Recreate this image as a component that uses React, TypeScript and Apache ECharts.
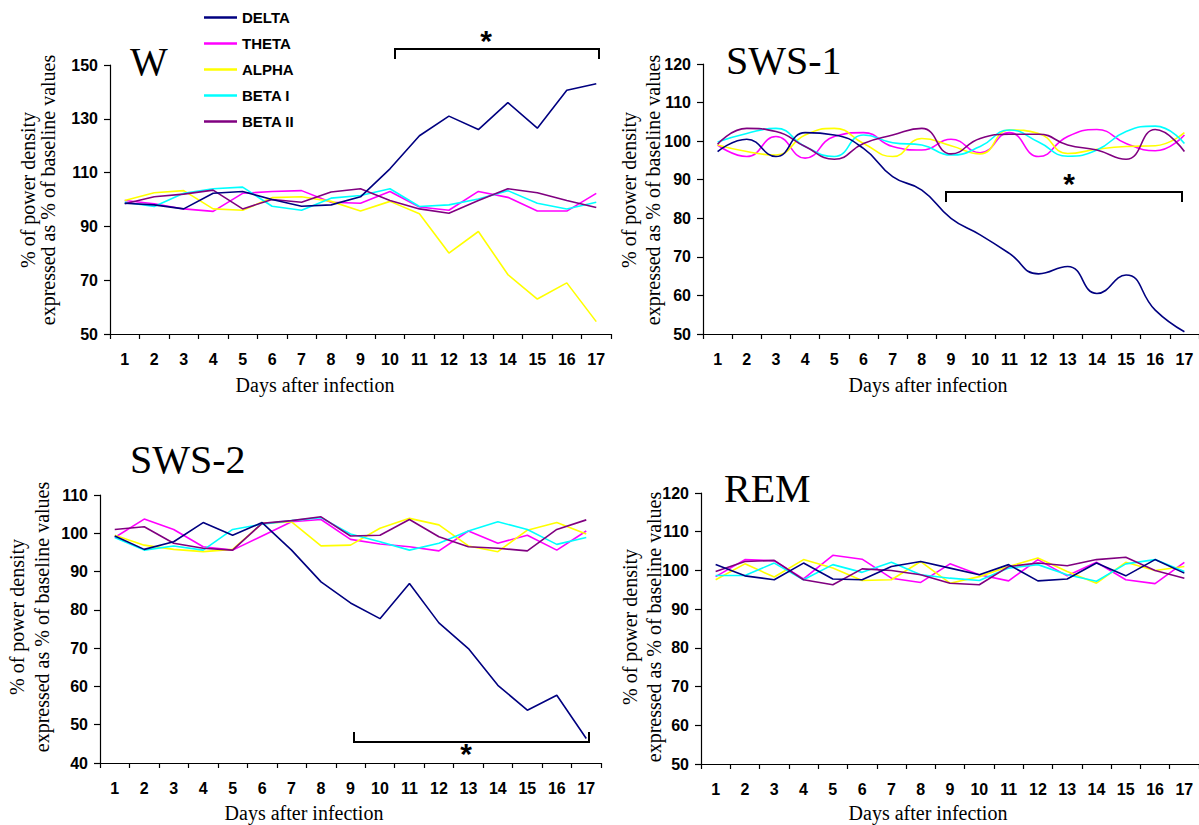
import React, { useEffect, useRef } from "react";
import * as echarts from "echarts";

const days = ["1","2","3","4","5","6","7","8","9","10","11","12","13","14","15","16","17"];
const bandNames = ["DELTA", "THETA", "ALPHA", "BETA I", "BETA II"];
const bandColors = ["#000080", "#FF00FF", "#FFFF00", "#00FFFF", "#800080"];

// W (wake)
const wDelta = [98.6, 98, 96.5, 102.3, 103, 100, 97.5, 98, 101, 111.4, 123.7, 131, 126, 136, 126.5, 140.6, 143];
const wTheta = [99.6, 98.4, 96.5, 95.6, 102.3, 103, 103.3, 99, 98.6, 103, 97.2, 96, 103, 100.8, 95.7, 95.7, 102.3];
const wAlpha = [99.6, 102.5, 103.3, 96.5, 96, 100.7, 101, 99.3, 95.7, 99.3, 94.7, 80.1, 88.1, 72.1, 63, 69, 54.6];
const wBeta1 = [99, 97.4, 102.3, 104, 104.6, 97.5, 96, 100.5, 101.5, 104, 97.4, 98, 100.2, 103.3, 98.6, 96.5, 99];
const wBeta2 = [98.4, 101, 102, 103.5, 96.5, 100, 99, 102.8, 104, 99.6, 96.5, 94.9, 99.6, 104, 102.5, 99.6, 97];

// SWS-1
const s1Delta = [97.3, 100.5, 96, 102.2, 101.6, 98.1, 90.8, 87.3, 80, 75.7, 70.9, 65.6, 67.5, 60.5, 65.3, 56.2, 50.6];
const s1Theta = [99, 96, 101.2, 95.6, 101.2, 102.2, 98.6, 97.7, 100.5, 97, 102.2, 96, 101.2, 103, 99.4, 97.5, 101.6];
const s1Alpha = [99, 97.3, 96.4, 101.6, 103.3, 99.4, 96, 100.7, 98.8, 96.7, 102.9, 102, 96.8, 97.9, 98.6, 98.8, 102.2];
const s1Beta1 = [99.8, 102, 103.3, 98.6, 96, 101.6, 99.6, 99, 96.4, 98.6, 102.9, 99.8, 96.1, 97.7, 102.5, 103.9, 99.4];
const s1Beta2 = [99.2, 103.3, 102.5, 98.6, 95.3, 99.4, 101.6, 103.3, 96.7, 100.7, 101.8, 101.8, 99, 97.7, 95.3, 103, 97.3];

// SWS-2
const s2Delta = [99.3, 95.8, 97.8, 102.8, 99.5, 102.8, 95.6, 87.3, 81.8, 77.7, 86.9, 76.6, 69.9, 60.3, 53.8, 57.7, 46.4];
const s2Theta = [98.9, 103.7, 101, 96.5, 95.6, 99.3, 103, 103.6, 98.4, 97.2, 96.5, 95.4, 100.6, 97.4, 99.5, 95.6, 100.6];
const s2Alpha = [99.5, 96.9, 95.8, 95.2, 95.8, 102.6, 103, 96.7, 96.9, 101.3, 103.9, 102.2, 96.7, 95.2, 100.8, 102.8, 99.8];
const s2Beta1 = [98.9, 95.6, 96.7, 95.6, 101, 102.4, 103.3, 104.1, 99.8, 97.8, 95.6, 97.4, 100.6, 103, 101, 97.1, 98.9];
const s2Beta2 = [101, 101.7, 97.4, 96.1, 95.6, 102.6, 103.3, 104.3, 99.3, 99.5, 103.6, 99.1, 96.5, 96.1, 95.4, 101, 103.5];

// REM
const remDelta = [101.5, 98.6, 97.6, 101.9, 97.8, 97.6, 101, 102.3, 100.6, 98.9, 101.5, 97.3, 97.8, 101.9, 98.6, 102.8, 99.3];
const remTheta = [98.4, 102.8, 102.5, 97.8, 103.9, 102.9, 98, 96.9, 101.7, 98.9, 97.3, 102.8, 98.6, 102.1, 97.6, 96.6, 102.1];
const remAlpha = [97.6, 101.7, 98.3, 102.8, 100.6, 97.4, 97.6, 102.3, 96.7, 98.4, 101, 103.2, 99.7, 96.7, 102.1, 100, 101];
const remBeta1 = [98.7, 98.7, 101.9, 97.6, 101.5, 99.5, 102.1, 98.9, 98, 97.4, 100.6, 101.5, 98.9, 97.2, 101.7, 102.8, 99.7];
const remBeta2 = [99.7, 102.3, 102.6, 97.6, 96.3, 100.4, 100, 98.9, 96.7, 96.3, 101, 101.9, 101.2, 102.8, 103.4, 100, 98];

const wTicks = [50, 70, 90, 110, 130, 150];
const s1Ticks = [50, 60, 70, 80, 90, 100, 110, 120];
const s2Ticks = [40, 50, 60, 70, 80, 90, 100, 110];
const remTicks = [50, 60, 70, 80, 90, 100, 110, 120];

const panelTitles = ["W", "SWS-1", "SWS-2", "REM"];
const xTitle = "Days after infection";
const yTitle1 = "% of power density";
const yTitle2 = "expressed as % of baseline values";

const SANS = "'Liberation Sans', Arial, sans-serif";
const SERIF = "'Liberation Serif', 'Times New Roman', serif";

export default function App() {
  const ref = useRef<HTMLDivElement>(null);
  useEffect(() => {
    if (!ref.current) return;
    const chart = echarts.init(ref.current, null, { renderer: "svg" });

    const panels = [
      { data: [wDelta, wTheta, wAlpha, wBeta1, wBeta2], ticks: wTicks, smooth: false,
        grid: { left: 110, top: 65, width: 501, height: 269 } },
      { data: [s1Delta, s1Theta, s1Alpha, s1Beta1, s1Beta2], ticks: s1Ticks, smooth: true,
        grid: { left: 703, top: 64, width: 500, height: 270 } },
      { data: [s2Delta, s2Theta, s2Alpha, s2Beta1, s2Beta2], ticks: s2Ticks, smooth: false,
        grid: { left: 100, top: 495, width: 501, height: 268 } },
      { data: [remDelta, remTheta, remAlpha, remBeta1, remBeta2], ticks: remTicks, smooth: false,
        grid: { left: 701, top: 493, width: 501, height: 271 } },
    ];

    const grids = panels.map((p) => p.grid);
    const xAxes = panels.map((p, i) => ({
      type: "category",
      gridIndex: i,
      data: days,
      boundaryGap: true,
      axisLine: { lineStyle: { color: "#000", width: 1.2 } },
      axisTick: { show: true, length: 5, inside: false, lineStyle: { color: "#000", width: 1.2 } },
      axisLabel: { color: "#000", fontFamily: SANS, fontSize: 16, fontWeight: "bold", margin: 17, interval: 0 },
      splitLine: { show: false },
    }));
    const yAxes = panels.map((p, i) => ({
      type: "value",
      gridIndex: i,
      min: p.ticks[0],
      max: p.ticks[p.ticks.length - 1],
      axisLine: { show: true, lineStyle: { color: "#000", width: 1.2 } },
      axisTick: { show: true, length: 6, inside: false, customValues: p.ticks, lineStyle: { color: "#000", width: 1.2 } },
      axisLabel: { color: "#000", fontFamily: SANS, fontSize: 16, fontWeight: "bold", margin: 12, customValues: p.ticks },
      splitLine: { show: false },
    }));

    const series: any[] = [];
    panels.forEach((p, i) => {
      p.data.forEach((vals, k) => {
        series.push({
          type: "line",
          name: bandNames[k],
          xAxisIndex: i,
          yAxisIndex: i,
          data: vals,
          smooth: p.smooth,
          symbol: "none",
          showSymbol: false,
          lineStyle: { color: bandColors[k], width: 1.6 },
          itemStyle: { color: bandColors[k] },
          z: k === 0 ? 3 : 2,
        });
      });
    });

    const titlePos = [
      { x: 130, y: 61 },
      { x: 726, y: 60 },
      { x: 130, y: 459 },
      { x: 724, y: 488 },
    ];
    const xTitlePos = [
      { x: 315, y: 385 },
      { x: 928, y: 385 },
      { x: 304, y: 813 },
      { x: 928, y: 813 },
    ];
    const yTitlePos = [
      { x1: 28, x2: 48, y: 190 },
      { x1: 629, x2: 653, y: 190 },
      { x1: 17, x2: 42, y: 617 },
      { x1: 630, x2: 654, y: 627 },
    ];

    const graphic: any[] = [];
    panelTitles.forEach((t, i) => {
      graphic.push({
        type: "text",
        x: titlePos[i].x,
        y: titlePos[i].y,
        style: { text: t, font: `40px ${SERIF}`, fill: "#000", textAlign: "left", textVerticalAlign: "middle" },
      });
      graphic.push({
        type: "text",
        x: xTitlePos[i].x,
        y: xTitlePos[i].y,
        style: { text: xTitle, font: `20px ${SERIF}`, fill: "#000", textAlign: "center", textVerticalAlign: "middle" },
      });
      graphic.push({
        type: "text",
        x: yTitlePos[i].x1,
        y: yTitlePos[i].y,
        rotation: Math.PI / 2,
        style: { text: yTitle1, font: `20px ${SERIF}`, fill: "#000", textAlign: "center", textVerticalAlign: "middle" },
      });
      graphic.push({
        type: "text",
        x: yTitlePos[i].x2,
        y: yTitlePos[i].y,
        rotation: Math.PI / 2,
        style: { text: yTitle2, font: `20px ${SERIF}`, fill: "#000", textAlign: "center", textVerticalAlign: "middle" },
      });
    });

    // significance brackets
    const brackets = [
      { x1: 395, x2: 599, y: 49, end: 59, sx: 486, sy: 40 },
      { x1: 946, x2: 1182, y: 192, end: 202, sx: 1069, sy: 183 },
      { x1: 354, x2: 589, y: 742, end: 732, sx: 466, sy: 753 },
    ];
    brackets.forEach((b) => {
      graphic.push({
        type: "polyline",
        shape: { points: [[b.x1, b.end], [b.x1, b.y], [b.x2, b.y], [b.x2, b.end]] },
        style: { stroke: "#000", lineWidth: 2, fill: null },
      });
      graphic.push({
        type: "text",
        x: b.sx,
        y: b.sy,
        style: { text: "*", font: `bold 30px ${SANS}`, fill: "#000", textAlign: "center", textVerticalAlign: "middle" },
      });
    });

    chart.setOption({
      animation: false,
      backgroundColor: "#fff",
      legend: {
        data: bandNames,
        orient: "vertical",
        left: 199,
        top: 5,
        icon: "rect",
        itemWidth: 33,
        itemHeight: 2.5,
        itemGap: 11,
        textStyle: { color: "#000", fontFamily: SANS, fontSize: 15, fontWeight: "bold" },
        selectedMode: false,
      },
      grid: grids,
      xAxis: xAxes,
      yAxis: yAxes,
      series,
      graphic,
    });
    return () => chart.dispose();
  }, []);
  return <div ref={ref} style={{ position: "absolute", left: 0, top: 0, width: 1199, height: 825 }} />;
}
